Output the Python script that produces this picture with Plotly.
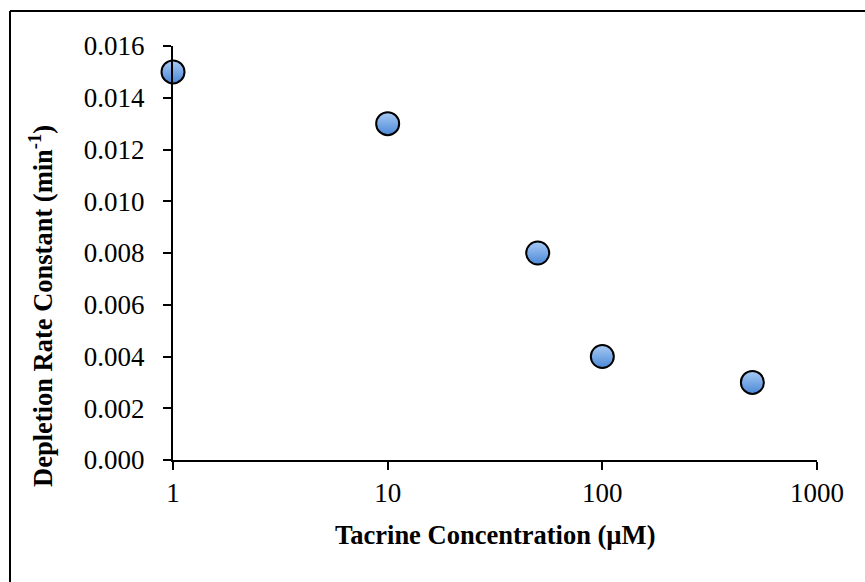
import plotly.graph_objects as go

concentration_uM = [1, 10, 50, 100, 500]
depletion_rate = [0.015, 0.013, 0.008, 0.004, 0.003]
x_tickvals = [1, 10, 100, 1000]
x_ticktext = ["1", "10", "100", "1000"]
y_tickvals = [0.000, 0.002, 0.004, 0.006, 0.008, 0.010, 0.012, 0.014, 0.016]

W, H = 865, 582
L, R, T, B = 173, 48, 46, 122
pw, ph = W - L - R, H - T - B

FONT = "Liberation Serif, Times New Roman, serif"

fig = go.Figure()
fig.add_trace(go.Scatter(
    x=concentration_uM, y=depletion_rate, mode="markers",
    marker=dict(size=23, color="#a9cbf5",
                gradient=dict(type="vertical", color="#4a88d6"),
                line=dict(color="black", width=2)),
    cliponaxis=False, showlegend=False,
))

axis_common = dict(showline=True, linecolor="black", linewidth=2, ticks="outside",
                   ticklen=8, tickwidth=2, tickcolor="black", showgrid=False,
                   zeroline=False, tickfont=dict(family=FONT, size=27, color="black"))

fig.update_xaxes(type="log", range=[0, 3], tickvals=x_tickvals, ticktext=x_ticktext,
                 ticklabelstandoff=0, **axis_common)
fig.update_yaxes(range=[0, 0.016], tickvals=y_tickvals, tickformat=".3f",
                 ticklabelstandoff=13, **axis_common)

fig.add_annotation(text="<b>Tacrine Concentration (µM)</b>", xref="paper", yref="paper",
                   x=0.5, y=(H - 535 - B) / ph, showarrow=False,
                   font=dict(family=FONT, size=26.5, color="black"),
                   xanchor="center", yanchor="middle")
fig.add_annotation(text="<b>Depletion Rate Constant (min<sup>-1</sup>)</b>", xref="paper", yref="paper",
                   x=(41 - L) / pw, y=(H - 306 - B) / ph, showarrow=False, textangle=-90,
                   font=dict(family=FONT, size=26.5, color="black"),
                   xanchor="center", yanchor="middle")

# outer frame (left and top edges visible)
fx = (10 - L) / pw
fy = (H - 11 - B) / ph
fig.add_shape(type="line", xref="paper", yref="paper", x0=fx, x1=fx, y0=-1, y1=fy,
              line=dict(color="black", width=2))
fig.add_shape(type="line", xref="paper", yref="paper", x0=fx, x1=2, y0=fy, y1=fy,
              line=dict(color="black", width=2))

fig.update_layout(width=W, height=H, margin=dict(l=L, r=R, t=T, b=B),
                  plot_bgcolor="white", paper_bgcolor="white")

fig.write_html("out.html")
